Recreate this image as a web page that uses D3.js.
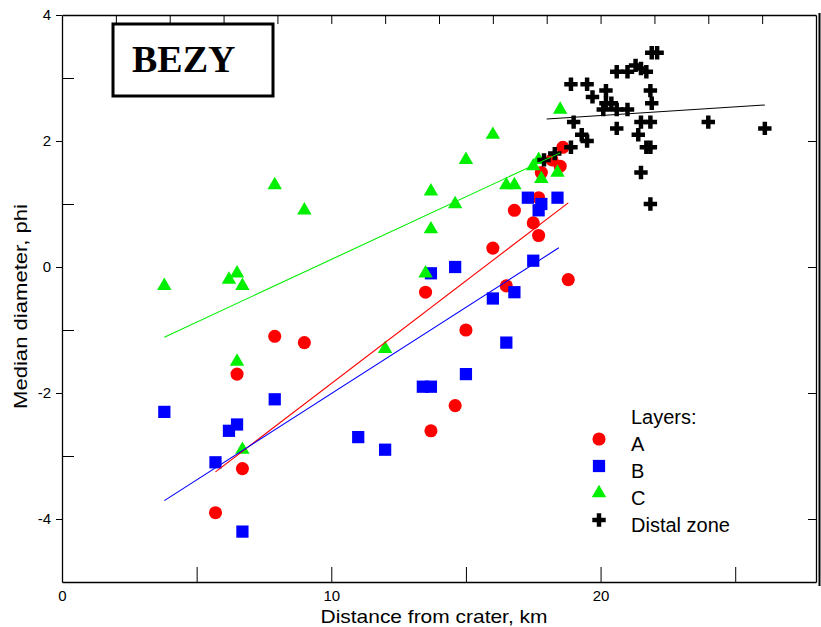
<!DOCTYPE html>
<html>
<head>
<meta charset="utf-8">
<script src="https://cdn.jsdelivr.net/npm/d3@7"></script>
<style>
  html, body { margin: 0; padding: 0; background: #fff; }
  svg { display: block; }
  text { font-family: "Liberation Sans", Arial, sans-serif; fill: #000; }
</style>
</head>
<body>
<svg id="chart" width="821" height="627"></svg>
<script>
// Median grain size (phi) against distance from the crater, by layer
const layerA = [
  [5.7, -3.9], [6.7, -3.2], [6.5, -1.7], [7.9, -1.1], [9.0, -1.2],
  [13.5, -0.4], [13.7, -2.6], [14.6, -2.2], [15.0, -1.0], [16.0, 0.3],
  [16.5, -0.3], [16.8, 0.9], [17.5, 0.7], [17.7, 0.5], [17.7, 1.1],
  [17.8, 1.5], [18.2, 1.7], [18.5, 1.6], [18.6, 1.9], [18.8, -0.2]
];
const layerB = [
  [3.8, -2.3], [5.7, -3.1], [6.2, -2.6], [6.5, -2.5], [6.7, -4.2],
  [7.9, -2.1], [11.0, -2.7], [12.0, -2.9], [13.4, -1.9], [13.7, -1.9],
  [13.7, -0.1], [14.6, 0.0], [15.0, -1.7], [16.0, -0.5], [16.5, -1.2],
  [16.8, -0.4], [17.3, 1.1], [17.5, 0.1], [17.7, 0.9], [17.8, 1.0],
  [18.4, 1.1]
];
const layerC = [
  [3.8, -0.3], [6.2, -0.2], [6.5, -0.1], [6.7, -0.3], [6.5, -1.5],
  [6.7, -2.9], [7.9, 1.3], [9.0, 0.9], [12.0, -1.3], [13.5, -0.1],
  [13.7, 0.6], [13.7, 1.2], [14.6, 1.0], [15.0, 1.7], [16.0, 2.1],
  [16.5, 1.3], [16.8, 1.3], [17.5, 1.6], [17.7, 1.7], [17.8, 1.4],
  [18.4, 1.5], [18.5, 2.5]
];
const distal = [
  [17.9, 1.7], [18.3, 1.8], [18.9, 2.9], [19.5, 2.9], [20.2, 2.8],
  [19.7, 2.7], [20.6, 3.1], [21.0, 3.1], [21.3, 3.2], [21.5, 3.15],
  [21.7, 3.1], [21.9, 3.4], [22.1, 3.4], [20.2, 2.6], [20.4, 2.6],
  [20.1, 2.5], [20.6, 2.5], [21.0, 2.5], [21.85, 2.8], [21.9, 2.6],
  [19.0, 2.3], [20.6, 2.2], [21.5, 2.3], [21.85, 2.3], [24.0, 2.3],
  [26.1, 2.2], [19.3, 2.1], [19.5, 2.0], [21.4, 2.1], [18.9, 1.9],
  [21.7, 1.9], [21.85, 1.9], [21.5, 1.5], [21.85, 1.0]
];

// Least-squares trend lines: phi = intercept + slope * km, over [from, to]
const fitA = { from: 5.7, to: 18.8, slope: 0.326, intercept: -5.11 };
const fitB = { from: 3.8, to: 18.45, slope: 0.274, intercept: -4.75 };
const fitC = { from: 3.8, to: 18.5, slope: 0.199, intercept: -1.87 };
const fitDistal = { from: 18.0, to: 26.1, slope: 0.0274, intercept: 1.856 };

const xDomain = [0, 28];
const yDomain = [-5, 4];
const xLabelTicks = [0, 10, 20];
const xMajorTicks = [0, 5, 10, 15, 20, 25];
const xTopTicks = [2, 4, 6, 8, 10, 12, 14, 16, 18, 20, 22, 24, 26];
const yLabelTicks = [-4, -2, 0, 2, 4];
const yMinorTicks = [-3, -1, 1, 3];
const yRightTicks = [-4, -2, 0, 2];

const legendTitle = "Layers:";
const legendNames = ["A", "B", "C", "Distal zone"];
const chartTitle = "BEZY";
const xTitle = "Distance from crater, km";
const yTitle = "Median diameter, phi";

const svg = d3.select("#chart");
svg.append("rect").attr("width", 821).attr("height", 627).attr("fill", "#fff");

const plotL = 62, plotR = 816, plotT = 15, plotB = 582;
const x = d3.scaleLinear().domain(xDomain).range([plotL, plotR]);
const y = d3.scaleLinear().domain(yDomain).range([plotB, plotT]);

const axisStyle = g => {
  g.selectAll("path.domain").attr("stroke", "#000").attr("stroke-width", 1.3);
  g.selectAll(".tick line").attr("stroke", "#000").attr("stroke-width", 1);
  g.selectAll(".tick text").style("font-size", "15px");
};

// bottom axis: inward ticks every 5 km, labels every 10 km
svg.append("g").attr("transform", `translate(0,${plotB})`)
  .call(d3.axisBottom(x).tickValues(xMajorTicks).tickSizeInner(-15).tickSizeOuter(0)
    .tickPadding(7)
    .tickFormat(d => xLabelTicks.includes(d) ? d3.format("d")(d) : ""))
  .call(axisStyle)
  .call(g => g.selectAll(".tick text").attr("dy", "0.8em"));

// top axis
svg.append("g").attr("transform", `translate(0,${plotT})`)
  .call(d3.axisTop(x).tickValues(xTopTicks).tickSizeInner(-9).tickSizeOuter(0).tickFormat(""))
  .call(axisStyle);

// left axis: labelled ticks outward, minor ticks inward
svg.append("g").attr("transform", `translate(${plotL},0)`)
  .call(d3.axisLeft(y).tickValues(yLabelTicks).tickSizeInner(6).tickSizeOuter(0)
    .tickPadding(5).tickFormat(d3.format("d")))
  .call(axisStyle)
  .call(g => g.selectAll(".tick text").text(d => d < 0 ? "-" + Math.abs(d) : d));
svg.append("g").attr("transform", `translate(${plotL},0)`)
  .call(d3.axisLeft(y).tickValues(yMinorTicks).tickSizeInner(-12).tickSizeOuter(0).tickFormat(""))
  .call(g => g.select("path.domain").remove())
  .call(axisStyle);

// right axis, drawn as a double rule
svg.append("g").attr("transform", `translate(${plotR},0)`)
  .call(d3.axisRight(y).tickValues(yRightTicks).tickSizeInner(-8).tickSizeOuter(0).tickFormat(""))
  .call(axisStyle);
svg.append("line")
  .attr("x1", plotR + 3.5).attr("x2", plotR + 3.5)
  .attr("y1", y(yDomain[1]) - 2).attr("y2", y(yDomain[0]) + 4)
  .attr("stroke", "#000").attr("stroke-width", 2);

// axis titles
svg.append("text").attr("x", 434).attr("y", 623)
  .attr("text-anchor", "middle").style("font-size", "19px")
  .attr("textLength", 227).attr("lengthAdjust", "spacingAndGlyphs")
  .text(xTitle);
svg.append("text")
  .attr("transform", `translate(27,${(plotT + plotB) / 2 + 8}) rotate(-90)`)
  .attr("text-anchor", "middle").style("font-size", "19px")
  .attr("textLength", 205).attr("lengthAdjust", "spacingAndGlyphs")
  .text(yTitle);

// title box
svg.append("rect").attr("x", 113).attr("y", 24).attr("width", 160).attr("height", 72)
  .attr("fill", "#fff").attr("stroke", "#000").attr("stroke-width", 3);
svg.append("text").attr("x", 132).attr("y", 72)
  .style("font-family", '"Liberation Serif", "Times New Roman", serif')
  .style("font-weight", "bold").style("font-size", "38px")
  .text(chartTitle);

// markers
const symCircle = d3.symbol().type(d3.symbolCircle).size(135);
const symSquare = d3.symbol().type(d3.symbolSquare).size(150);
const symTriangle = d3.symbol().type(d3.symbolTriangle).size(90);
const symCross = d3.symbol().type(d3.symbolCross).size(100);

const styles = [
  { data: layerA, sym: symCircle, fill: "#ff0000" },
  { data: layerB, sym: symSquare, fill: "#0000ff" },
  { data: layerC, sym: symTriangle, fill: "#00f000" },
  { data: distal, sym: symCross, fill: "#000000" }
];

styles.forEach(s => {
  svg.append("g").selectAll("path").data(s.data).join("path")
    .attr("d", s.sym)
    .attr("transform", d => `translate(${x(d[0])},${y(d[1])})`)
    .attr("fill", s.fill);
});

// trend lines
const fits = [
  { fit: fitC, color: "#00ee00" },
  { fit: fitA, color: "#ff0000" },
  { fit: fitB, color: "#0000ff" },
  { fit: fitDistal, color: "#000000" }
];
const lineGen = d3.line().x(d => x(d[0])).y(d => y(d[1]));
fits.forEach(f => {
  const pts = [f.fit.from, f.fit.to].map(k => [k, f.fit.intercept + f.fit.slope * k]);
  svg.append("path").attr("d", lineGen(pts))
    .attr("fill", "none").attr("stroke", f.color).attr("stroke-width", 1.1);
});

// legend
const lg = svg.append("g");
lg.append("text").attr("x", 631).attr("y", 424).style("font-size", "20px").text(legendTitle);
legendNames.forEach((name, i) => {
  const by = 451 + i * 27;
  lg.append("path").attr("d", styles[i].sym)
    .attr("transform", `translate(${599},${by - 12})`)
    .attr("fill", styles[i].fill);
  lg.append("text").attr("x", 631).attr("y", by).style("font-size", "20px").text(name);
});
</script>
</body>
</html>
